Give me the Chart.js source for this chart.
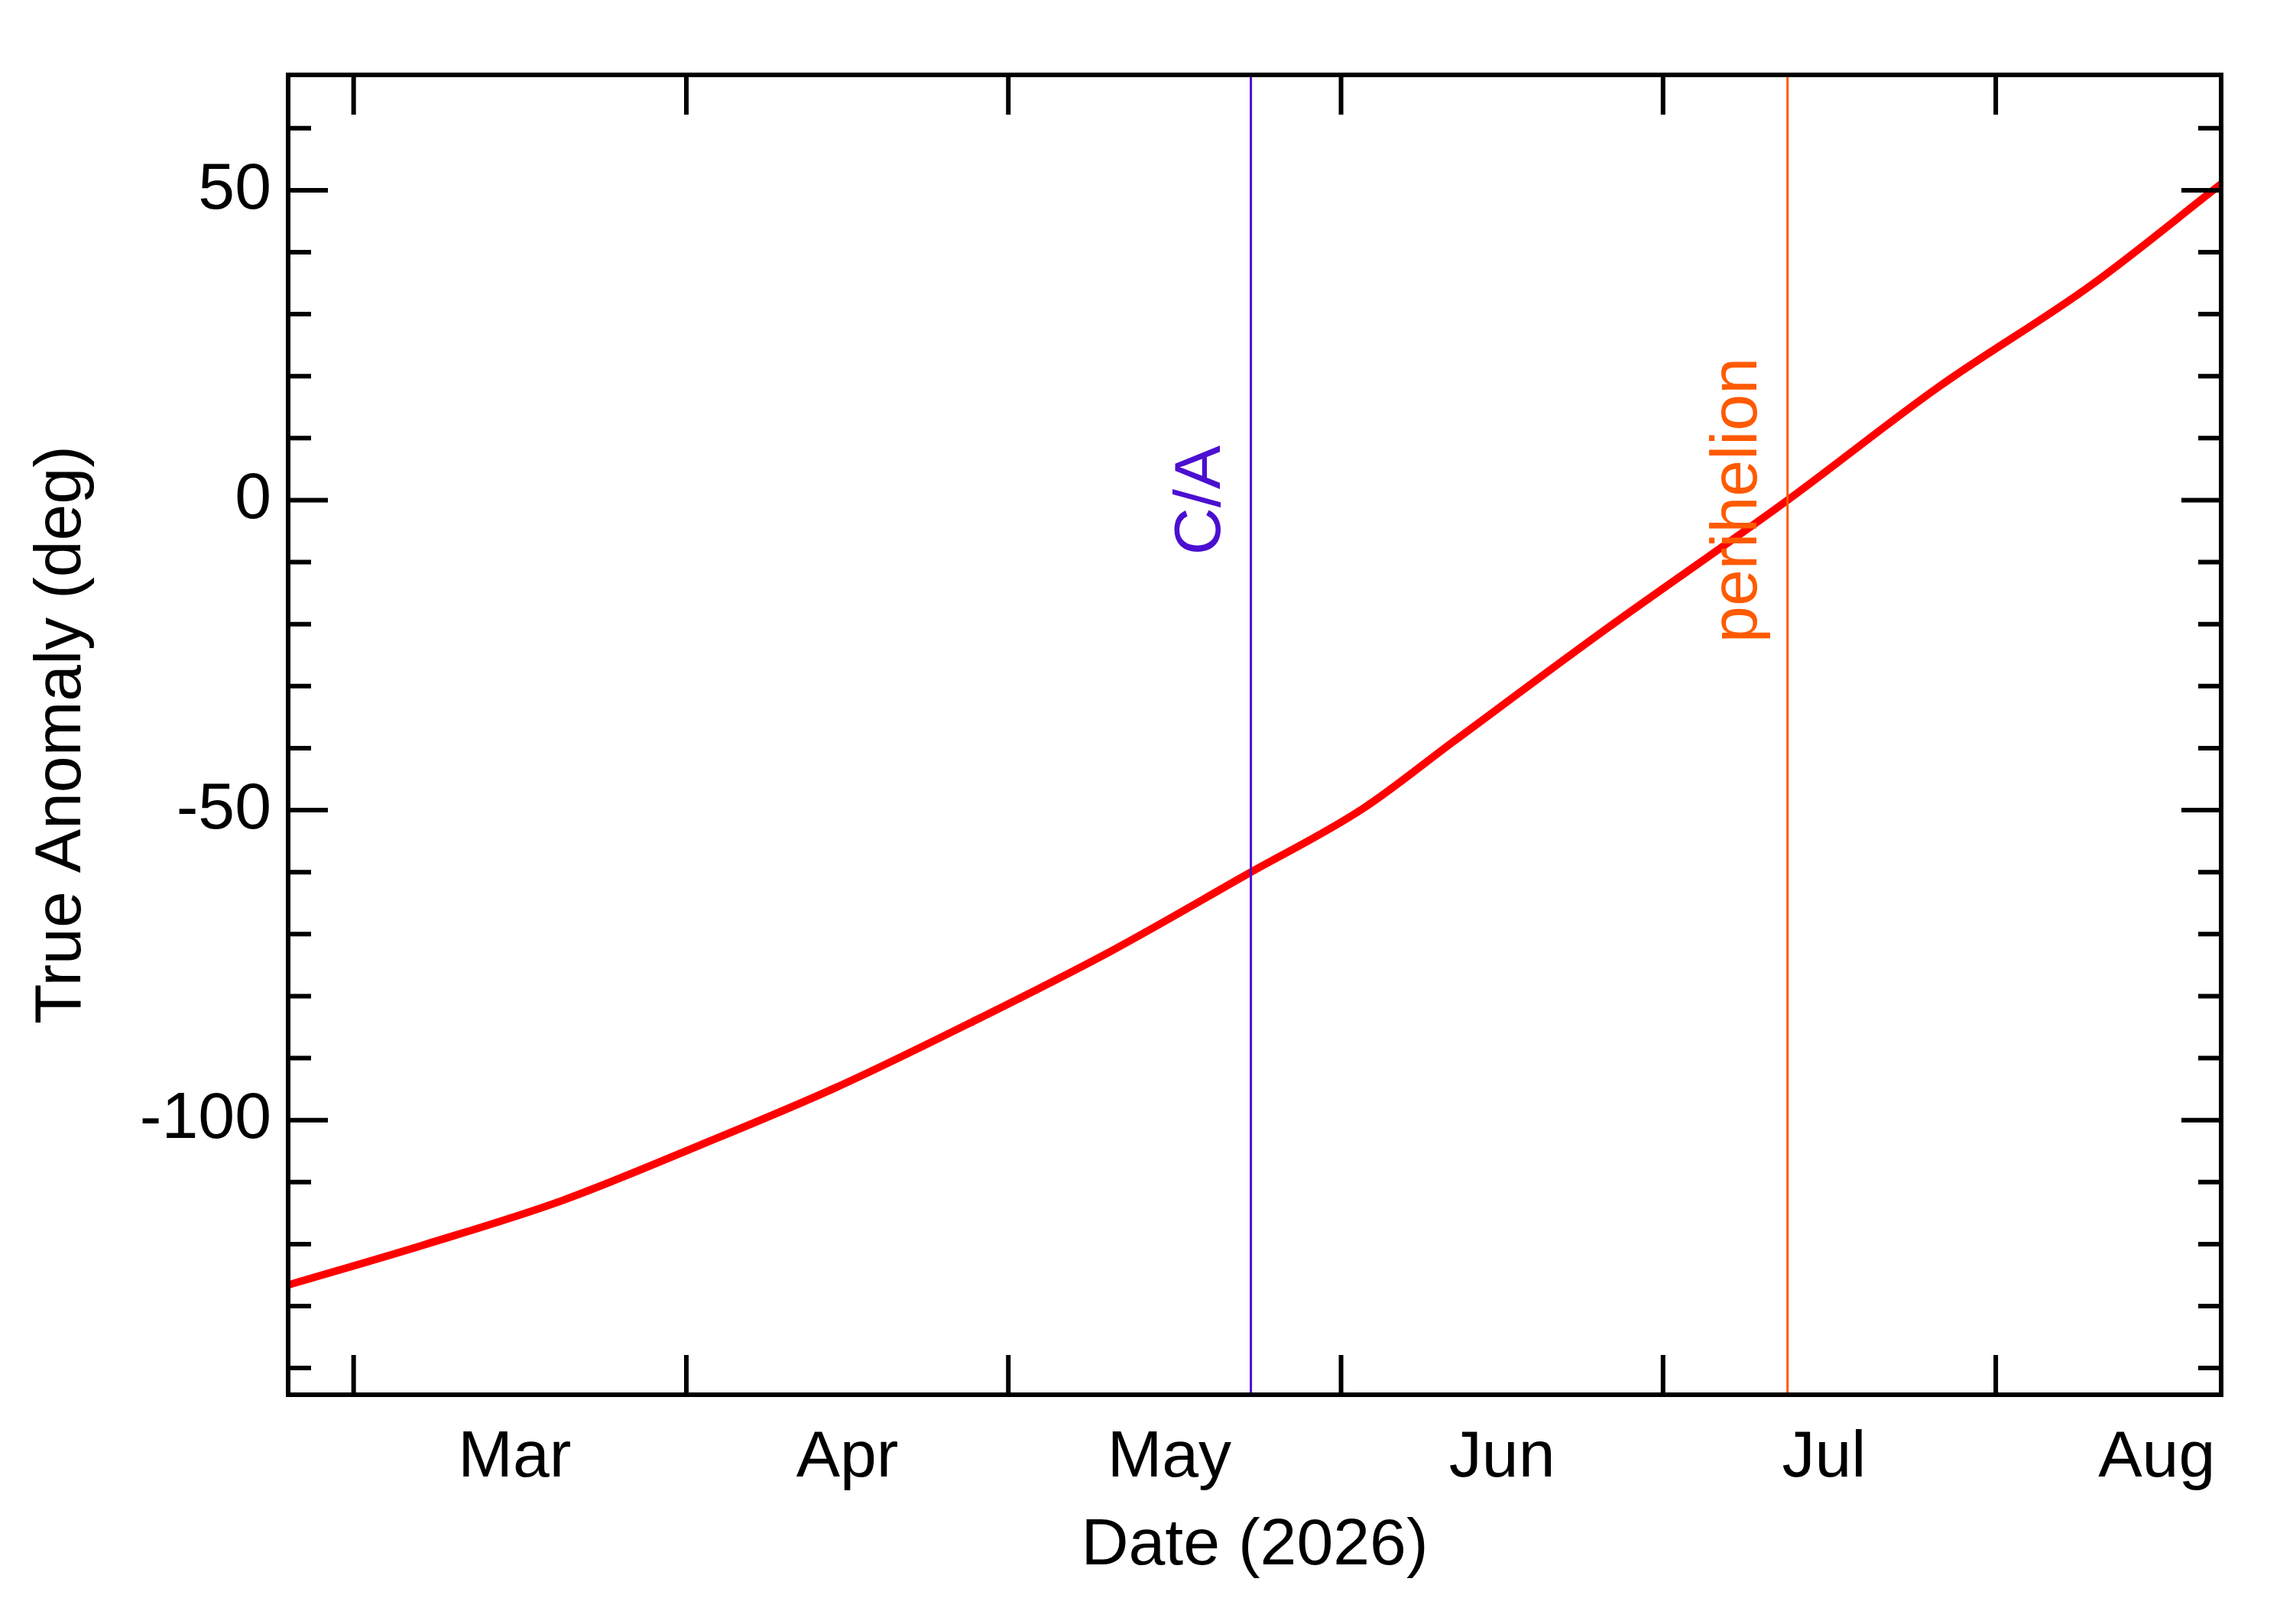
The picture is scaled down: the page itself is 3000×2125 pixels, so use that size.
<!DOCTYPE html>
<html>
<head>
<meta charset="utf-8">
<script src="https://cdn.jsdelivr.net/npm/chart.js@4/dist/chart.umd.min.js"></script>
<style>body{margin:0;background:#fff}</style>
</head>
<body>
<canvas id="c" width="3000" height="2125"></canvas>
<script>
"use strict"

// x values are day-of-year 2026 (Jan 1 = 0)
const dayOfYear = [52.9, 65.6, 78.4, 91.2, 104, 116.7, 129.4, 142.2, 153, 161.5, 175.6, 192.6, 206.7, 220.9, 233];
const anomaly = [-126.6, -120.1, -113.0, -104.1, -94.7, -84.1, -72.9, -60.4, -49.8, -38.9, -20.9, 0, 18.3, 34.7, 51];
const monthStarts = [59, 90, 120, 151, 181, 212];
const monthLabels = ['Mar', 'Apr', 'May', 'Jun', 'Jul', 'Aug'];
const yLabels = [-100, -50, 0, 50];
const markers = [
  {day: 142.6, text: 'C/A', color: '#4b0fd0'},
  {day: 192.6, text: 'perihelion', color: '#ff5a00'}
];

const font = {family: 'Liberation Sans, Arial, sans-serif', size: 86};

const frame = {
  id: 'frame',
  afterDatasetsDraw(chart) {
    const {ctx, chartArea: a, scales: {x, y}} = chart;
    ctx.save();
    markers.forEach(m => {
      const px = x.getPixelForValue(m.day);
      ctx.strokeStyle = m.color;
      ctx.lineWidth = 3;
      ctx.beginPath(); ctx.moveTo(px, a.top); ctx.lineTo(px, a.bottom); ctx.stroke();
      ctx.save();
      ctx.translate(px - 64, y.getPixelForValue(0));
      ctx.rotate(-Math.PI / 2);
      ctx.fillStyle = m.color;
      ctx.font = `${font.size}px ${font.family}`;
      ctx.textAlign = 'center';
      ctx.textBaseline = 'middle';
      ctx.fillText(m.text, 0, 0);
      ctx.restore();
    });
    ctx.strokeStyle = '#000';
    ctx.lineWidth = 6;
    ctx.strokeRect(a.left, a.top, a.right - a.left, a.bottom - a.top);
    ctx.beginPath();
    monthStarts.forEach(d => {
      const px = x.getPixelForValue(d);
      ctx.moveTo(px, a.bottom); ctx.lineTo(px, a.bottom - 52);
      ctx.moveTo(px, a.top); ctx.lineTo(px, a.top + 52);
    });
    for (let v = -140; v <= 60; v += 10) {
      const py = y.getPixelForValue(v);
      const len = v % 50 === 0 ? 52 : 30;
      ctx.moveTo(a.left, py); ctx.lineTo(a.left + len, py);
      ctx.moveTo(a.right, py); ctx.lineTo(a.right - len, py);
    }
    ctx.stroke();
    ctx.restore();
  }
};

new Chart(document.getElementById('c'), {
  type: 'line',
  data: {
    datasets: [{
      data: dayOfYear.map((d, i) => ({x: d, y: anomaly[i]})),
      borderColor: '#ff0000',
      borderWidth: 10,
      pointRadius: 0,
      cubicInterpolationMode: 'monotone'
    }]
  },
  options: {
    responsive: false,
    devicePixelRatio: 1,
    animation: false,
    layout: {padding: {left: 0, top: 98, right: 94, bottom: 0}},
    plugins: {legend: {display: false}, tooltip: {enabled: false}},
    scales: {
      x: {
        type: 'linear', min: 52.9, max: 233,
        grid: {display: false}, border: {display: false},
        afterBuildTicks: s => { s.ticks = monthStarts.map(d => ({value: d + 15})); },
        afterFit: s => { s.height = 300; },
        ticks: {
          autoSkip: false, maxRotation: 0, padding: 24, color: '#000', font,
          callback: (v, i) => monthLabels[i]
        },
        title: {display: true, text: 'Date (2026)', color: '#000', font, padding: {top: 0, bottom: 50}}
      },
      y: {
        min: -144.3, max: 68.6,
        grid: {display: false}, border: {display: false},
        afterBuildTicks: s => { s.ticks = yLabels.map(v => ({value: v})); },
        afterFit: s => { s.width = 377; },
        ticks: {padding: 14, color: '#000', font},
        title: {display: true, text: 'True Anomaly (deg)', color: '#000', font, padding: {top: 30, bottom: 0}}
      }
    }
  },
  plugins: [frame]
});
</script>
</body>
</html>
